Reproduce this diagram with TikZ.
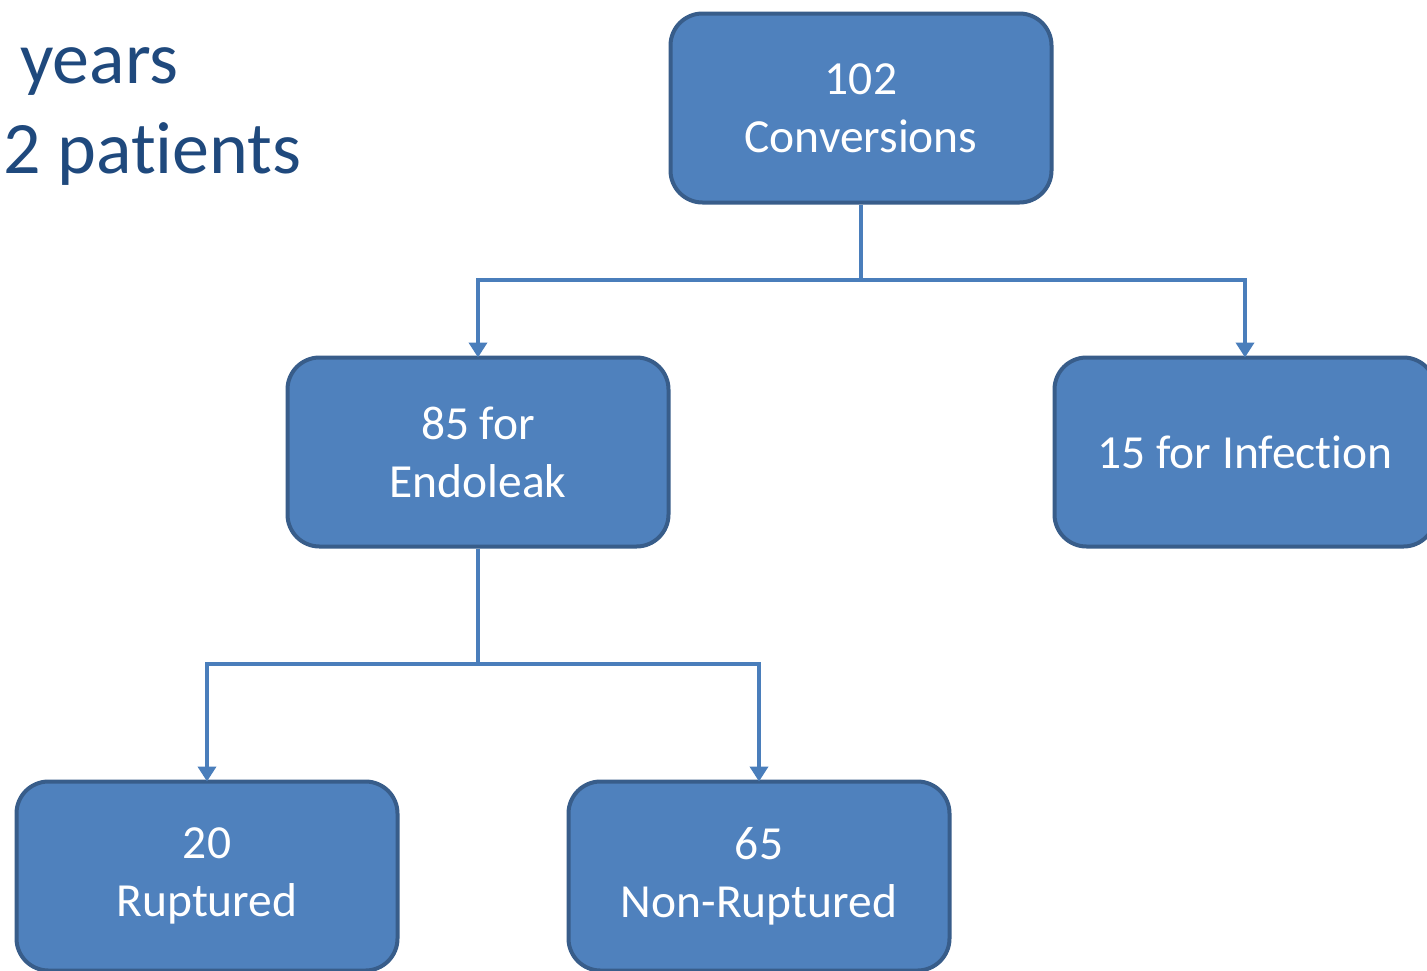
\documentclass[tikz,border=0pt]{standalone}
\usepackage{fontspec}
\setmainfont{Carlito}[Ligatures={NoCommon,NoContextual,NoRare}, Contextuals=NoAlternate]
\usetikzlibrary{arrows.meta}
\definecolor{boxfill}{HTML}{4F81BD}
\definecolor{boxline}{HTML}{385D8A}
\definecolor{conn}{HTML}{4A7EBB}
\definecolor{titleblue}{HTML}{1F497D}
\tikzset{
  flowbox/.style={draw=boxline, fill=boxfill, line width=4pt, rounded corners=32pt,
    minimum width=381pt, minimum height=189pt, inner sep=0pt, align=center,
    text=white, font=\fontsize{47.5}{58}\selectfont},
  connector/.style={draw=conn, line width=4pt, -{Triangle[width=18pt,length=15pt]}},
  sidetext/.style={text=titleblue, font=\fontsize{74}{90}\selectfont, inner sep=0pt, anchor=base west}
}
\begin{document}
\begin{tikzpicture}[x=1pt,y=-1pt]
\path[use as bounding box, clip] (0,0) rectangle (1427,970);
\fill[white] (0,0) rectangle (1427,970);
\node[sidetext] (yrs) at (20,83) {years};
\node[sidetext] (pts) at (3,173) {2 pat\kern0pt ients};
\node[flowbox] (conv) at (861,108) {102\\Conversions};
\node[flowbox] (endo) at (478,452) {85 for\\Endoleak};
\node[flowbox] (inf) at (1245,452) {15 for Infection};
\node[flowbox] (rup) at (207,876) {20\\Ruptured};
\node[flowbox] (nonrup) at (759,876) {65\\Non-Ruptured};
\draw[connector] (conv.south) -- ++(0,75) -| ([yshift=-2pt]endo.north);
\draw[connector] (conv.south) -- ++(0,75) -| ([yshift=-2pt]inf.north);
\draw[connector] (endo.south) -- ++(0,115) -| ([yshift=-2pt]rup.north);
\draw[connector] (endo.south) -- ++(0,115) -| ([yshift=-2pt]nonrup.north);
\end{tikzpicture}
\end{document}
